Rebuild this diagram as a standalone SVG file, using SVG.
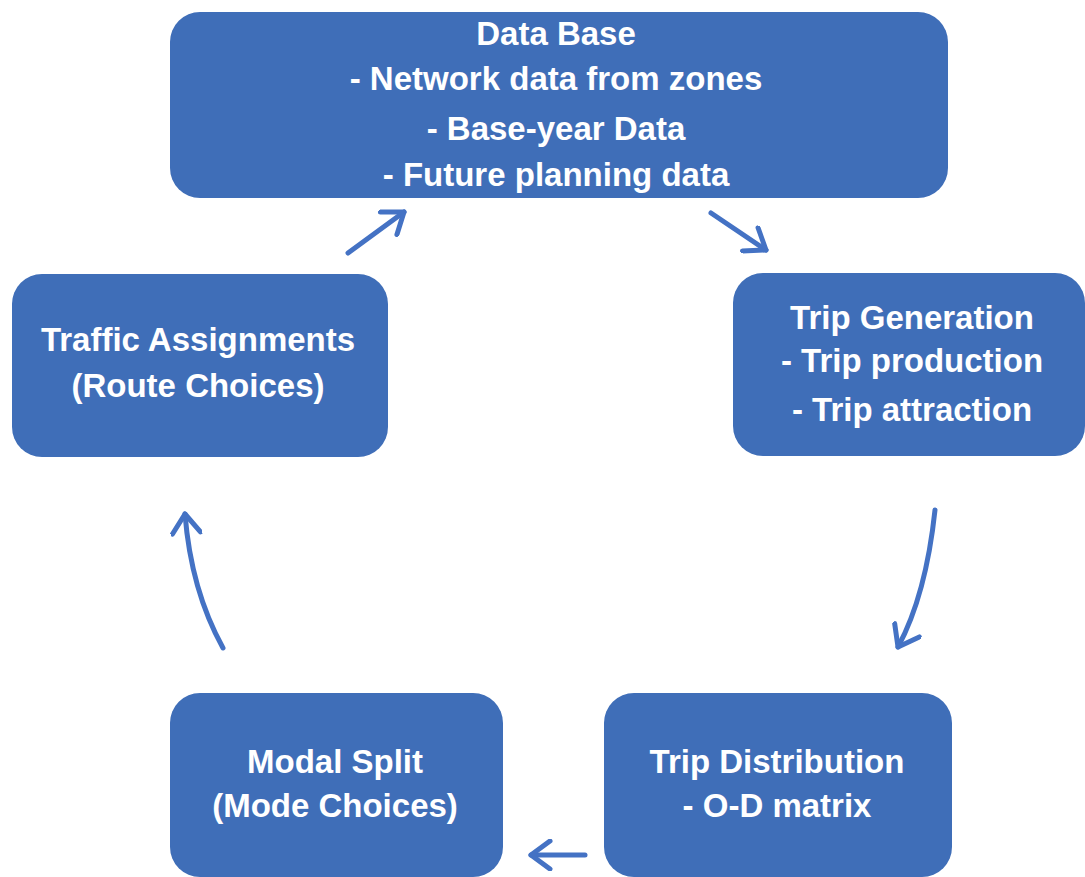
<svg xmlns="http://www.w3.org/2000/svg" width="1085" height="877" viewBox="0 0 1085 877">
  <style>
    .box { fill: #3F6EB8; }
    .t { fill: #ffffff; font-family: "Liberation Sans", Arial, sans-serif; font-weight: bold; font-size: 33px; text-anchor: middle; }
    .c { fill: none; stroke: #4472C4; stroke-width: 5; stroke-linecap: round; }
  </style>
  <defs>
    <marker id="ah" markerUnits="userSpaceOnUse" viewBox="-24 -16 28 32" refX="0" refY="0" markerWidth="28" markerHeight="32" orient="auto">
      <path d="M-19,-14 L0,0 L-19,14" fill="none" stroke="#4472C4" stroke-width="5" stroke-linecap="round" stroke-linejoin="round"/>
    </marker>
  </defs>
  <rect width="1085" height="877" fill="#ffffff"/>

  <g id="database">
    <rect class="box" x="170" y="12" width="778" height="186" rx="30"/>
    <text class="t" x="556" y="45">Data Base</text>
    <text class="t" x="556" y="90">- Network data from zones</text>
    <text class="t" x="556" y="140">- Base-year Data</text>
    <text class="t" x="556" y="186">- Future planning data</text>
  </g>

  <g id="traffic">
    <rect class="box" x="12" y="274" width="376" height="183" rx="30"/>
    <text class="t" x="198" y="351">Traffic Assignments</text>
    <text class="t" x="198" y="397">(Route Choices)</text>
  </g>

  <g id="tripgen">
    <rect class="box" x="733" y="273" width="352" height="183" rx="30"/>
    <text class="t" x="912" y="329">Trip Generation</text>
    <text class="t" x="912" y="372">- Trip production</text>
    <text class="t" x="912" y="421">- Trip attraction</text>
  </g>

  <g id="modal">
    <rect class="box" x="170" y="693" width="333" height="184" rx="30"/>
    <text class="t" x="335" y="773">Modal Split</text>
    <text class="t" x="335" y="817">(Mode Choices)</text>
  </g>

  <g id="tripdist">
    <rect class="box" x="604" y="693" width="348" height="184" rx="30"/>
    <text class="t" x="777" y="773">Trip Distribution</text>
    <text class="t" x="777" y="817">- O-D matrix</text>
  </g>

  <g id="connectors">
    <path class="c" d="M348,253 L404,212" marker-end="url(#ah)"/>
    <path class="c" d="M711,213 L766,250" marker-end="url(#ah)"/>
    <path class="c" d="M935,510 Q926,595 898,647" marker-end="url(#ah)"/>
    <path class="c" d="M585,855 L531,855" marker-end="url(#ah)"/>
    <path class="c" d="M223,648 Q191,590 185,514" marker-end="url(#ah)"/>
  </g>
</svg>
